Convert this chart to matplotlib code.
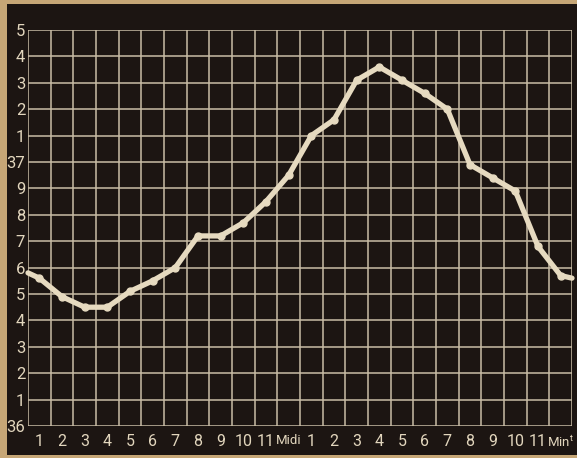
import matplotlib
matplotlib.use("Agg")
import matplotlib.pyplot as plt
from matplotlib.patches import Rectangle

# ---- data ----
hours = list(range(1, 25))
hour_labels = ["1", "2", "3", "4", "5", "6", "7", "8", "9", "10", "11", "Midi",
               "1", "2", "3", "4", "5", "6", "7", "8", "9", "10", "11", r"Min$^{\mathregular{t}}$"]
temps = [36.56, 36.49, 36.45, 36.45, 36.51, 36.55, 36.60, 36.72, 36.72, 36.77,
         36.85, 36.95, 37.10, 37.16, 37.31, 37.36, 37.31, 37.26, 37.20, 36.99,
         36.94, 36.89, 36.68, 36.57]
start_temp = 36.58   # value at left edge (previous midnight)
end_temp = 36.56     # value at right edge
y_ticks = [36.0, 36.1, 36.2, 36.3, 36.4, 36.5, 36.6, 36.7, 36.8, 36.9,
           37.0, 37.1, 37.2, 37.3, 37.4, 37.5]
y_labels = ["36", "1", "2", "3", "4", "5", "6", "7", "8", "9",
            "37", "1", "2", "3", "4", "5"]

# ---- style ----
fam = ["Roboto", "DejaVu Sans"]
paper = "#c6a676"
dark = "#1c1512"
grid_c = "#c9bda6"
line_c = "#e6dac0"
text_c = "#e2d6bd"

W, H = 577, 458
fig = plt.figure(figsize=(W / 100, H / 100), dpi=100, facecolor=paper)
bg = Rectangle((7 / W, 3 / H), 1 - 7 / W, 1 - 7 / H,
               transform=fig.transFigure, facecolor=dark,
               edgecolor="none", zorder=-10)
fig.patches.append(bg)

ax = fig.add_axes([28 / W, (H - 426) / H, 544 / W, 396 / H])
ax.set_zorder(1)
ax.set_facecolor(dark)
ax.set_xlim(0.5, 24.5)
ax.set_ylim(36.0, 37.5)

ax.set_xticks(hours)
ax.set_xticklabels(hour_labels)
ax.set_yticks(y_ticks)
ax.set_yticklabels(y_labels)

ax.grid(False)
for xg in [h + 0.5 for h in range(0, 25)]:
    ax.axvline(xg, color=grid_c, lw=1.1, zorder=1)
for yg in y_ticks:
    ax.axhline(yg, color=grid_c, lw=1.1, zorder=1)

for s in ax.spines.values():
    s.set_visible(False)

ax.tick_params(axis="both", length=0, colors=text_c)
ax.tick_params(axis="x", pad=6)
ax.tick_params(axis="y", pad=2)
xl = ax.get_xticklabels()
for i, lab in enumerate(xl):
    lab.set_family(fam)
    lab.set_fontsize(9.5 if i in (11, 23) else 11.5)
    lab.set_color(text_c)
for lab in ax.get_yticklabels():
    lab.set_family(fam)
    lab.set_fontsize(12)
    lab.set_color(text_c)

xs = [0.5] + hours + [24.5]
ys = [start_temp] + temps + [end_temp]
ax.plot(xs, ys, color=line_c, lw=3.8, solid_joinstyle="round",
        solid_capstyle="round", zorder=3, clip_on=False)
ax.plot(hours, temps, "o", color=line_c, ms=5, zorder=4, clip_on=False)

fig.savefig("out.png", dpi=100, facecolor=paper)
